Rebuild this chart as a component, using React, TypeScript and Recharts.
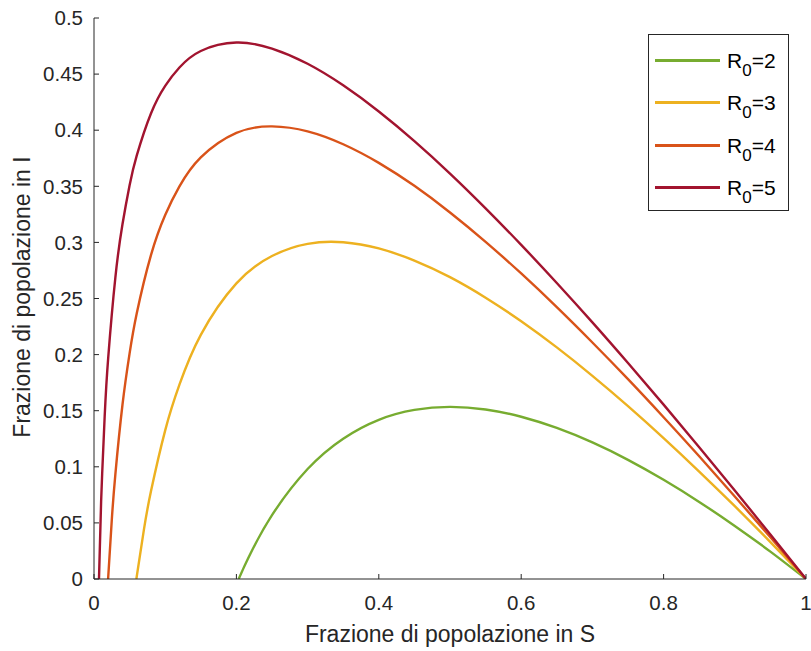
import { Line, LineChart, XAxis, YAxis } from "recharts";

const xTicks = [0, 0.2, 0.4, 0.6, 0.8, 1];
const yTicks = [0, 0.05, 0.1, 0.15, 0.2, 0.25, 0.3, 0.35, 0.4, 0.45, 0.5];

const r2Points = [
  { s: 0.2032, i: 0 },
  { s: 0.21, i: 0.0097 },
  { s: 0.22, i: 0.023 },
  { s: 0.25, i: 0.0569 },
  { s: 0.3, i: 0.098 },
  { s: 0.35, i: 0.1251 },
  { s: 0.4, i: 0.1419 },
  { s: 0.45, i: 0.1507 },
  { s: 0.5, i: 0.1534 },
  { s: 0.55, i: 0.1511 },
  { s: 0.6, i: 0.1446 },
  { s: 0.65, i: 0.1346 },
  { s: 0.7, i: 0.1217 },
  { s: 0.75, i: 0.1062 },
  { s: 0.8, i: 0.0884 },
  { s: 0.85, i: 0.0687 },
  { s: 0.9, i: 0.0473 },
  { s: 0.95, i: 0.0244 },
  { s: 1, i: 0 },
];

const r3Points = [
  { s: 0.0595, i: 0 },
  { s: 0.07, i: 0.0436 },
  { s: 0.08, i: 0.0781 },
  { s: 0.1, i: 0.1325 },
  { s: 0.12, i: 0.1732 },
  { s: 0.15, i: 0.2176 },
  { s: 0.2, i: 0.2635 },
  { s: 0.25, i: 0.2879 },
  { s: 0.3, i: 0.2987 },
  { s: 0.35, i: 0.3001 },
  { s: 0.4, i: 0.2946 },
  { s: 0.45, i: 0.2838 },
  { s: 0.5, i: 0.269 },
  { s: 0.55, i: 0.2507 },
  { s: 0.6, i: 0.2297 },
  { s: 0.65, i: 0.2064 },
  { s: 0.7, i: 0.1811 },
  { s: 0.75, i: 0.1541 },
  { s: 0.8, i: 0.1256 },
  { s: 0.85, i: 0.0958 },
  { s: 0.9, i: 0.0649 },
  { s: 0.95, i: 0.0329 },
  { s: 1, i: 0 },
];

const r4Points = [
  { s: 0.0198, i: 0 },
  { s: 0.025, i: 0.0528 },
  { s: 0.03, i: 0.0933 },
  { s: 0.04, i: 0.1553 },
  { s: 0.05, i: 0.2011 },
  { s: 0.06, i: 0.2366 },
  { s: 0.08, i: 0.2886 },
  { s: 0.1, i: 0.3244 },
  { s: 0.12, i: 0.3499 },
  { s: 0.15, i: 0.3757 },
  { s: 0.2, i: 0.3976 },
  { s: 0.25, i: 0.4034 },
  { s: 0.3, i: 0.399 },
  { s: 0.35, i: 0.3875 },
  { s: 0.4, i: 0.3709 },
  { s: 0.45, i: 0.3504 },
  { s: 0.5, i: 0.3267 },
  { s: 0.55, i: 0.3005 },
  { s: 0.6, i: 0.2723 },
  { s: 0.65, i: 0.2423 },
  { s: 0.7, i: 0.2108 },
  { s: 0.75, i: 0.1781 },
  { s: 0.8, i: 0.1442 },
  { s: 0.85, i: 0.1094 },
  { s: 0.9, i: 0.0736 },
  { s: 0.95, i: 0.0372 },
  { s: 1, i: 0 },
];

const r5Points = [
  { s: 0.007, i: 0 },
  { s: 0.01, i: 0.069 },
  { s: 0.015, i: 0.1451 },
  { s: 0.02, i: 0.1976 },
  { s: 0.03, i: 0.2687 },
  { s: 0.04, i: 0.3162 },
  { s: 0.05, i: 0.3509 },
  { s: 0.06, i: 0.3773 },
  { s: 0.08, i: 0.4149 },
  { s: 0.1, i: 0.4395 },
  { s: 0.12, i: 0.4559 },
  { s: 0.15, i: 0.4706 },
  { s: 0.2, i: 0.4781 },
  { s: 0.25, i: 0.4727 },
  { s: 0.3, i: 0.4592 },
  { s: 0.35, i: 0.44 },
  { s: 0.4, i: 0.4167 },
  { s: 0.45, i: 0.3903 },
  { s: 0.5, i: 0.3614 },
  { s: 0.55, i: 0.3304 },
  { s: 0.6, i: 0.2978 },
  { s: 0.65, i: 0.2638 },
  { s: 0.7, i: 0.2287 },
  { s: 0.75, i: 0.1925 },
  { s: 0.8, i: 0.1554 },
  { s: 0.85, i: 0.1175 },
  { s: 0.9, i: 0.0789 },
  { s: 0.95, i: 0.0397 },
  { s: 1, i: 0 },
];

const series = [
  { r0: "2", color: "#77AC30", data: r2Points },
  { r0: "3", color: "#EDB120", data: r3Points },
  { r0: "4", color: "#D95319", data: r4Points },
  { r0: "5", color: "#A2142F", data: r5Points },
];

const font = "'Liberation Sans', Arial, sans-serif";
const axisColor = "#262626";

const fmt = (v: number) => String(Math.round(v * 100) / 100);

// legend drawn as a plain box on top of the chart so it takes no plot space
function LegendBox() {
  return (
    <div
      style={{
        position: "absolute",
        left: 648,
        top: 34,
        width: 141,
        height: 177,
        border: "1px solid #262626",
        background: "#fff",
        boxSizing: "border-box",
        fontFamily: font,
        color: "#000",
        paddingTop: 4,
      }}
    >
      {series.map((s) => (
        <div
          key={s.r0}
          style={{ display: "flex", alignItems: "center", height: 42.5 }}
        >
          <div
            style={{
              marginLeft: 6,
              width: 65,
              height: 3,
              background: s.color,
            }}
          />
          <span style={{ marginLeft: 7, fontSize: 21, lineHeight: "21px" }}>
            R<sub style={{ fontSize: 17, verticalAlign: -8, lineHeight: 0 }}>0</sub>={s.r0}
          </span>
        </div>
      ))}
    </div>
  );
}

export default function App() {
  return (
    <div style={{ position: "relative", width: 811, height: 651, background: "#fff" }}>
      <style>{"body{margin:0}"}</style>
      <LineChart
        width={811}
        height={651}
        margin={{ top: 18, right: 5, left: 34, bottom: 16 }}
      >
        <XAxis
          type="number"
          dataKey="s"
          domain={[0, 1]}
          ticks={xTicks}
          tickFormatter={fmt}
          height={56}
          tickSize={-5}
          tickMargin={21}
          stroke={axisColor}
          tick={{ fill: axisColor, fontSize: 20.5, fontFamily: font }}
          allowDataOverflow
        />
        <YAxis
          type="number"
          dataKey="i"
          domain={[0, 0.5]}
          ticks={yTicks}
          tickFormatter={fmt}
          width={60}
          tickSize={-5}
          tickMargin={16}
          stroke={axisColor}
          tick={{ fill: axisColor, fontSize: 20.5, fontFamily: font }}
          allowDataOverflow
        />
        {series.map((s) => (
          <Line
            key={s.r0}
            data={s.data}
            dataKey="i"
            type="natural"
            stroke={s.color}
            strokeWidth={2.4}
            dot={false}
            isAnimationActive={false}
          />
        ))}
      </LineChart>
      <LegendBox />
      <div
        style={{
          position: "absolute",
          left: 450,
          top: 634,
          transform: "translate(-50%, -50%)",
          fontFamily: font,
          fontSize: 23,
          color: axisColor,
          whiteSpace: "nowrap",
        }}
      >
        Frazione di popolazione in S
      </div>
      <div
        style={{
          position: "absolute",
          left: 22,
          top: 297,
          transform: "translate(-50%, -50%) rotate(-90deg)",
          fontFamily: font,
          fontSize: 23,
          color: axisColor,
          whiteSpace: "nowrap",
        }}
      >
        Frazione di popolazione in I
      </div>
    </div>
  );
}
